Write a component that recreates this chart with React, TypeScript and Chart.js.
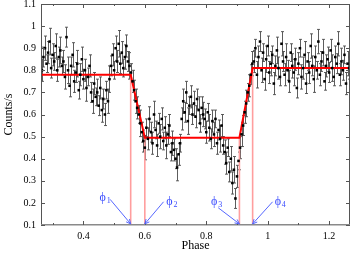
import React, { useEffect, useRef } from "react";
import { Chart, registerables } from "chart.js";
Chart.register(...registerables);

const phase = [
  0.265, 0.270, 0.275, 0.280, 0.285, 0.290, 0.295, 0.300, 0.305, 0.310,
  0.315, 0.320, 0.325, 0.330, 0.335, 0.340, 0.345, 0.350, 0.355, 0.360,
  0.365, 0.370, 0.375, 0.380, 0.385, 0.390, 0.395, 0.400, 0.405, 0.410,
  0.415, 0.420, 0.425, 0.430, 0.435, 0.440, 0.445, 0.450, 0.455, 0.460,
  0.465, 0.470, 0.475, 0.480, 0.485, 0.490, 0.495, 0.500, 0.505, 0.510,
  0.515, 0.520, 0.525, 0.530, 0.535, 0.540, 0.545, 0.550, 0.555, 0.560,
  0.565, 0.570, 0.575, 0.580, 0.585, 0.590, 0.595, 0.600, 0.605, 0.610,
  0.615, 0.620, 0.625, 0.630, 0.635, 0.640, 0.645, 0.650, 0.655, 0.660,
  0.665, 0.670, 0.675, 0.680, 0.685, 0.690, 0.695, 0.700, 0.705, 0.710,
  0.715, 0.720, 0.725, 0.730, 0.735, 0.740, 0.745, 0.750, 0.755, 0.760,
  0.765, 0.770, 0.775, 0.780, 0.785, 0.790, 0.795, 0.800, 0.805, 0.810,
  0.815, 0.820, 0.825, 0.830, 0.835, 0.840, 0.845, 0.850, 0.855, 0.860,
  0.865, 0.870, 0.875, 0.880, 0.885, 0.890, 0.895, 0.900, 0.905, 0.910,
  0.915, 0.920, 0.925, 0.930, 0.935, 0.940, 0.945, 0.950, 0.955, 0.960,
  0.965, 0.970, 0.975, 0.980, 0.985, 0.990, 0.995, 1.000, 1.005, 1.010,
  1.015, 1.020, 1.025, 1.030, 1.035, 1.040, 1.045, 1.050, 1.055, 1.060,
  1.065, 1.070, 1.075, 1.080, 1.085, 1.090, 1.095, 1.100, 1.105, 1.110,
  1.115, 1.120, 1.125, 1.130, 1.135, 1.140, 1.145, 1.150, 1.155, 1.160,
  1.165, 1.170, 1.175, 1.180, 1.185, 1.190, 1.195, 1.200, 1.205, 1.210,
  1.215, 1.220, 1.225, 1.230, 1.235, 1.240, 1.245, 1.250, 1.255, 1.260,
  1.265,
];

const counts = [
  // 0.265 - 0.330
  0.80, 0.86, 0.90, 0.83, 0.88, 0.93, 0.81, 0.87, 0.84, 0.91, 0.80, 0.86, 0.89, 0.82,
  // 0.335 - 0.440
  0.84, 0.77, 0.95, 0.80, 0.73, 0.82, 0.87, 0.75, 0.79, 0.83, 0.71, 0.78, 0.85, 0.76,
  0.80, 0.72, 0.77, 0.82, 0.70, 0.66, 0.74, 0.68,
  // 0.445 - 0.485
  0.70, 0.64, 0.72, 0.62, 0.67, 0.60, 0.71, 0.66, 0.76,
  // 0.490 - 0.555
  0.82, 0.87, 0.80, 0.90, 0.84, 0.92, 0.83, 0.88, 0.81, 0.86, 0.91, 0.84, 0.82, 0.79,
  // 0.560 - 0.600
  0.75, 0.71, 0.66, 0.63, 0.60, 0.56, 0.52, 0.48, 0.45,
  // 0.605 - 0.690
  0.54, 0.49, 0.58, 0.52, 0.47, 0.60, 0.53, 0.46, 0.56, 0.50, 0.58, 0.48, 0.54, 0.46,
  0.51, 0.55, 0.43, 0.47,
  // 0.695 - 0.715
  0.44, 0.40, 0.36, 0.42, 0.47,
  // 0.720 - 0.790
  0.58, 0.66, 0.61, 0.70, 0.57, 0.64, 0.68, 0.60, 0.65, 0.59, 0.67, 0.62, 0.56, 0.63, 0.60,
  // 0.795 - 0.855
  0.58, 0.52, 0.61, 0.54, 0.49, 0.57, 0.51, 0.58, 0.47, 0.53, 0.49, 0.55, 0.46,
  // 0.860 - 0.905
  0.43, 0.38, 0.45, 0.34, 0.40, 0.29, 0.35, 0.22, 0.32, 0.39,
  // 0.910 - 0.950
  0.45, 0.51, 0.55, 0.61, 0.65, 0.70, 0.73, 0.78, 0.83,
  // 0.955 - 1.265
  0.84, 0.90, 0.78, 0.86, 0.93, 0.80, 0.88, 0.76, 0.85, 0.91,
  0.79, 0.83, 0.87, 0.74, 0.82, 0.89, 0.81, 0.77, 0.92, 0.84,
  0.78, 0.86, 0.80, 0.75, 0.88, 0.82, 0.79, 0.85, 0.72, 0.83,
  0.90, 0.77, 0.81, 0.87, 0.74, 0.84, 0.79, 0.91, 0.82, 0.76,
  0.86, 0.80, 0.93, 0.78, 0.84, 0.88, 0.75, 0.82, 0.85, 0.79,
  0.89, 0.81, 0.77, 0.86, 0.83, 0.92, 0.78, 0.84, 0.80, 0.87,
  0.74, 0.83, 0.81,
];

const errors = [
  0.05, 0.045, 0.055, 0.04, 0.05, 0.06, 0.045, 0.05, 0.04, 0.055,
  0.05, 0.045, 0.06, 0.04, 0.05, 0.055, 0.045, 0.06, 0.05, 0.04,
  0.055, 0.05, 0.045, 0.06, 0.04, 0.05, 0.055, 0.045, 0.05, 0.06,
  0.04, 0.05, 0.045, 0.055, 0.05, 0.04, 0.06, 0.045, 0.05, 0.055,
  0.045, 0.05, 0.04, 0.055, 0.06, 0.045, 0.05, 0.04, 0.055, 0.05,
  0.06, 0.045, 0.05, 0.04, 0.055, 0.05, 0.045, 0.06, 0.04, 0.05,
  0.045, 0.055, 0.05, 0.04, 0.06, 0.045, 0.05, 0.055, 0.04, 0.05,
  0.055, 0.045, 0.05, 0.06, 0.04, 0.05, 0.045, 0.055, 0.05, 0.04,
  0.05, 0.06, 0.045, 0.05, 0.04, 0.055, 0.05, 0.045, 0.06, 0.05,
  0.04, 0.05, 0.055, 0.045, 0.05, 0.06, 0.04, 0.05, 0.045, 0.055,
  0.05, 0.045, 0.06, 0.04, 0.05, 0.055, 0.045, 0.05, 0.04, 0.06,
  0.045, 0.05, 0.055, 0.04, 0.05, 0.045, 0.06, 0.05, 0.04, 0.055,
  0.05, 0.04, 0.045, 0.055, 0.05, 0.06, 0.045, 0.05, 0.04, 0.05,
  0.055, 0.045, 0.05, 0.06, 0.04, 0.05, 0.045, 0.055, 0.05, 0.04,
  0.06, 0.05, 0.045, 0.055, 0.04, 0.05, 0.06, 0.045, 0.05, 0.055,
  0.04, 0.05, 0.045, 0.06, 0.05, 0.04, 0.055, 0.045, 0.05, 0.06,
  0.045, 0.05, 0.04, 0.055, 0.06, 0.05, 0.045, 0.05, 0.04, 0.055,
  0.05, 0.06, 0.045, 0.04, 0.05, 0.055, 0.045, 0.06, 0.05, 0.04,
  0.055, 0.05, 0.045, 0.06, 0.04, 0.05, 0.055, 0.045, 0.05, 0.06,
  0.04, 0.05, 0.045, 0.055, 0.05, 0.06, 0.045, 0.04, 0.05, 0.055,
  0.05,
];

// piecewise-linear eclipse model
const fitPhase = [0.262, 0.554, 0.6, 0.908, 0.951, 1.268];
const fitCounts = [0.78, 0.78, 0.495, 0.495, 0.81, 0.81];

// contact points
const contactPhase = [0.554, 0.6, 0.908, 0.951];
const contactLevel = [0.78, 0.495, 0.495, 0.81];
const contactNames = ["1", "2", "3", "4"];
const labelPhase = [0.463, 0.68, 0.826, 1.033];
const labelCounts = [0.222, 0.204, 0.204, 0.206];
const arrowStartPhase = [0.487, 0.661, 0.839, 1.016];
const arrowStartCounts = [0.216, 0.205, 0.178, 0.205];
const arrowEndCounts = [0.105, 0.105, 0.105, 0.105];

const xTicks = [0.4, 0.6, 0.8, 1.0, 1.2];
const xMinorTicks = [0.3, 0.5, 0.7, 0.9, 1.1];
const yTicks = [0.1, 0.2, 0.3, 0.4, 0.5, 0.6, 0.7, 0.8, 0.9, 1.0, 1.1];
const xMin = 0.262;
const xMax = 1.268;
const yMin = 0.1;
const yMax = 1.1;

const SERIF = "'Liberation Serif', 'Times New Roman', serif";

const overlay = {
  id: "overlay",
  beforeDatasetsDraw(chart: any) {
    const { ctx, chartArea, scales } = chart;
    const x = scales.x;
    const y = scales.y;
    ctx.save();
    ctx.beginPath();
    ctx.rect(chartArea.left, chartArea.top, chartArea.right - chartArea.left, chartArea.bottom - chartArea.top);
    ctx.clip();
    ctx.strokeStyle = "rgba(75,75,75,0.9)";
    ctx.lineWidth = 1;
    const n = Math.min(phase.length, counts.length, errors.length);
    for (let i = 0; i < n; i++) {
      const px = Math.round(x.getPixelForValue(phase[i])) + 0.5;
      const t = y.getPixelForValue(counts[i] + errors[i]);
      const b = y.getPixelForValue(counts[i] - errors[i]);
      ctx.beginPath();
      ctx.moveTo(px, t);
      ctx.lineTo(px, b);
      ctx.moveTo(px - 1.5, t);
      ctx.lineTo(px + 1.5, t);
      ctx.moveTo(px - 1.5, b);
      ctx.lineTo(px + 1.5, b);
      ctx.stroke();
    }
    ctx.restore();
  },
  afterDraw(chart: any) {
    const { ctx, chartArea, scales } = chart;
    const x = scales.x;
    const y = scales.y;
    const { left, right, top, bottom } = chartArea;
    ctx.save();
    // frame
    ctx.strokeStyle = "#555";
    ctx.lineWidth = 1;
    ctx.beginPath();
    ctx.moveTo(left + 0.5, bottom);
    ctx.lineTo(left + 0.5, top + 0.5);
    ctx.lineTo(right - 0.5, top + 0.5);
    ctx.lineTo(right - 0.5, bottom);
    ctx.stroke();
    ctx.strokeStyle = "#8a8a8a";
    ctx.lineWidth = 1.5;
    ctx.beginPath();
    ctx.moveTo(left, bottom - 0.25);
    ctx.lineTo(right, bottom - 0.25);
    ctx.stroke();
    // ticks
    ctx.strokeStyle = "#555";
    ctx.lineWidth = 1;
    ctx.beginPath();
    xTicks.forEach((v) => {
      const px = Math.round(x.getPixelForValue(v)) + 0.5;
      ctx.moveTo(px, bottom);
      ctx.lineTo(px, bottom - 4);
      ctx.moveTo(px, top);
      ctx.lineTo(px, top + 4);
    });
    xMinorTicks.forEach((v) => {
      const px = Math.round(x.getPixelForValue(v)) + 0.5;
      ctx.moveTo(px, bottom);
      ctx.lineTo(px, bottom - 2);
      ctx.moveTo(px, top);
      ctx.lineTo(px, top + 2);
    });
    yTicks.forEach((v) => {
      const py = Math.round(y.getPixelForValue(v)) + 0.5;
      ctx.moveTo(left, py);
      ctx.lineTo(left + 4, py);
      ctx.moveTo(right, py);
      ctx.lineTo(right - 4, py);
    });
    ctx.stroke();
    // arrows and labels
    const blue = "#3b4dff";
    ctx.strokeStyle = "#5566ff";
    ctx.fillStyle = blue;
    ctx.lineWidth = 1;
    for (let i = 0; i < contactPhase.length; i++) {
      const sx = x.getPixelForValue(arrowStartPhase[i]);
      const sy = y.getPixelForValue(arrowStartCounts[i]);
      const ex = x.getPixelForValue(contactPhase[i]);
      const ey = y.getPixelForValue(arrowEndCounts[i]);
      ctx.beginPath();
      ctx.moveTo(sx, sy);
      ctx.lineTo(ex, ey);
      const ang = Math.atan2(ey - sy, ex - sx);
      const h = 5;
      const spread = 0.45;
      ctx.moveTo(ex, ey);
      ctx.lineTo(ex - h * Math.cos(ang - spread), ey - h * Math.sin(ang - spread));
      ctx.moveTo(ex, ey);
      ctx.lineTo(ex - h * Math.cos(ang + spread), ey - h * Math.sin(ang + spread));
      ctx.stroke();
      const lx = x.getPixelForValue(labelPhase[i]);
      const ly = y.getPixelForValue(labelCounts[i]);
      ctx.font = `12px ${SERIF}`;
      ctx.textAlign = "center";
      ctx.textBaseline = "middle";
      ctx.fillText("\u03D5", lx, ly);
      ctx.font = `8px ${SERIF}`;
      ctx.textAlign = "left";
      ctx.fillText(contactNames[i], lx + 4, ly + 3);
    }
    ctx.restore();
  },
};

export default function App() {
  const ref = useRef<HTMLCanvasElement | null>(null);
  useEffect(() => {
    if (!ref.current) return;
    const pts = phase.map((p, i) => ({ x: p, y: counts[i] }));
    const fit = fitPhase.map((p, i) => ({ x: p, y: fitCounts[i] }));
    const contactSets = contactPhase.map((p, i) => ({
      data: [
        { x: p, y: yMin },
        { x: p, y: contactLevel[i] },
      ],
      showLine: true,
      borderColor: "#ff9e9e",
      borderWidth: 1.6,
      pointRadius: 0,
      fill: false,
    }));
    const chart = new Chart(ref.current, {
      type: "scatter",
      data: {
        datasets: [
          {
            data: pts,
            pointStyle: "rect",
            pointRadius: 1.8,
            backgroundColor: "#000",
            borderColor: "#000",
            borderWidth: 0,
            showLine: false,
          } as any,
          {
            data: fit,
            showLine: true,
            borderColor: "#ff0000",
            borderWidth: 2,
            pointRadius: 0,
            fill: false,
          } as any,
          ...(contactSets as any[]),
        ],
      },
      options: {
        animation: false,
        responsive: false,
        events: [],
        layout: { padding: { top: 4, right: 1, left: 0, bottom: 0 } },
        plugins: { legend: { display: false }, tooltip: { enabled: false } },
        scales: {
          x: {
            type: "linear",
            min: xMin,
            max: xMax,
            grid: { display: false, drawTicks: false },
            border: { display: false },
            afterBuildTicks: (s: any) => {
              s.ticks = xTicks.map((v) => ({ value: v }));
            },
            afterFit: (s: any) => {
              s.height = 28;
              s.paddingLeft = 0;
              s.paddingRight = 0;
            },
            ticks: {
              font: { family: SERIF, size: 10 },
              color: "#000",
              padding: 5,
              maxRotation: 0,
              autoSkip: false,
              callback: (v: any) => String(Math.round(Number(v) * 10) / 10),
            },
            title: {
              display: true,
              text: "Phase",
              color: "#000",
              font: { family: SERIF, size: 12 },
              padding: { top: 0, bottom: 0 },
            },
          },
          y: {
            type: "linear",
            min: yMin,
            max: yMax,
            grid: { display: false, drawTicks: false },
            border: { display: false },
            afterBuildTicks: (s: any) => {
              s.ticks = yTicks.map((v) => ({ value: v }));
            },
            afterFit: (s: any) => {
              s.width = 41;
              s.paddingTop = 0;
              s.paddingBottom = 0;
            },
            ticks: {
              font: { family: SERIF, size: 10 },
              color: "#000",
              padding: 5,
              autoSkip: false,
              callback: (v: any) => String(Math.round(Number(v) * 10) / 10),
            },
            title: {
              display: true,
              text: "Counts/s",
              color: "#000",
              font: { family: SERIF, size: 12 },
              padding: { top: 2, bottom: 0 },
            },
          },
        },
      },
      plugins: [overlay],
    });
    return () => chart.destroy();
  }, []);
  return (
    <div style={{ position: "absolute", left: 0, top: 0, width: 354, height: 253, background: "#fff" }}>
      <canvas ref={ref} width={354} height={253} />
    </div>
  );
}
